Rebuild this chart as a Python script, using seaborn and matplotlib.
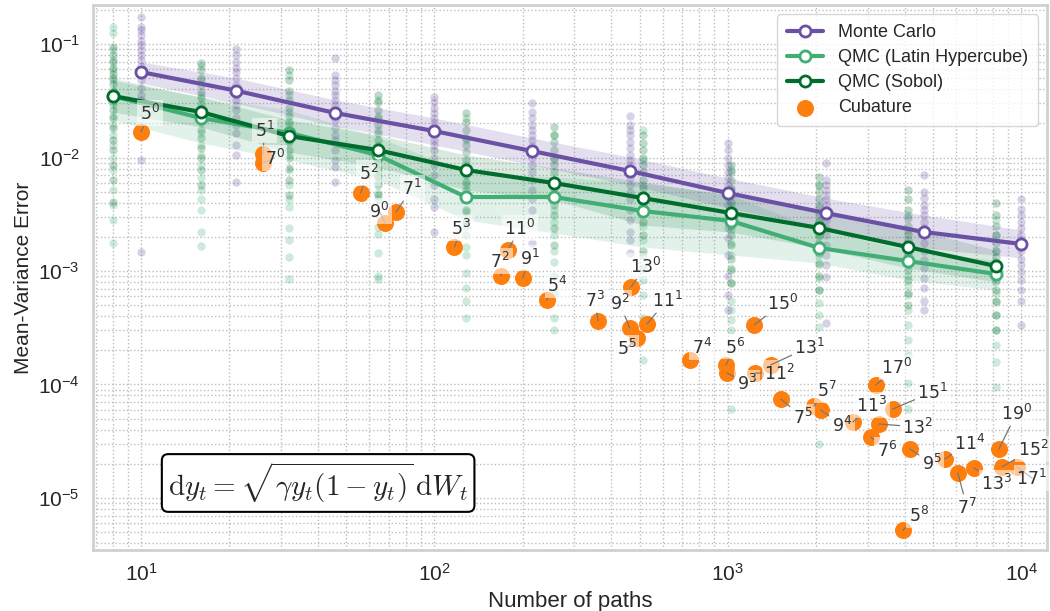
import numpy as np
import pandas as pd
import matplotlib
matplotlib.use("Agg")
import matplotlib.pyplot as plt
import seaborn as sns

# ---------------- data ----------------
mc_n = [10, 21, 46, 100, 215, 464, 1000, 2154, 4642, 10000]
qmc_n = [8, 16, 32, 64, 128, 256, 512, 1024, 2048, 4096, 8192]

# mean errors (log10)
mc_mean_log = [-1.247, -1.41, -1.608, -1.767, -1.943, -2.119, -2.313, -2.489, -2.656, -2.762]
sobol_mean_log = [-1.458, -1.599, -1.811, -1.934, -2.110, -2.225, -2.357, -2.489, -2.621, -2.789, -2.956]
lhs_mean_log = [-1.458, -1.652, -1.784, -1.978, -2.348, -2.348, -2.471, -2.559, -2.797, -2.912, -3.026]

# confidence bands (log10)
mc_hi_log = [-1.158, -1.299, -1.493, -1.652, -1.828, -1.996, -2.181, -2.357, -2.507, -2.639]
mc_lo_log = [-1.344, -1.520, -1.722, -1.890, -2.066, -2.242, -2.445, -2.621, -2.797, -2.885]
sobol_hi_log = [-1.317, -1.467, -1.670, -1.802, -1.978, -2.093, -2.216, -2.331, -2.463, -2.621, -2.815]
sobol_lo_log = [-1.599, -1.731, -1.952, -2.084, -2.286, -2.374, -2.595, -2.657, -2.797, -2.974, -3.097]
lhs_hi_log = [-1.299, -1.467, -1.581, -1.819, -2.137, -2.172, -2.225, -2.331, -2.639, -2.815, -2.903]
lhs_lo_log = [-1.670, -1.872, -2.022, -2.198, -2.551, -2.665, -2.789, -2.859, -2.930, -3.079, -3.167]

# individual runs (log10 error)
mc_runs_log = [
    [-0.76, -0.85, -0.88, -0.92, -0.97, -1.01, -1.05, -1.10, -1.14, -1.19, -1.23, -1.27, -1.32, -1.39, -1.45, -1.49, -2.02, -2.83],
    [-1.04, -1.10, -1.16, -1.21, -1.25, -1.30, -1.36, -1.41, -1.45, -1.49, -1.54, -1.58, -1.65, -1.71, -1.78, -1.89, -1.98, -2.22],
    [-1.12, -1.27, -1.32, -1.36, -1.41, -1.45, -1.49, -1.54, -1.58, -1.63, -1.67, -1.74, -1.80, -1.85, -1.93, -2.02, -2.08, -2.22],
    [-1.47, -1.51, -1.56, -1.61, -1.65, -1.70, -1.74, -1.78, -1.85, -1.89, -1.93, -2.00, -2.07, -2.15, -2.24, -2.37, -2.44, -2.66],
    [-1.52, -1.60, -1.65, -1.71, -1.76, -1.80, -1.85, -1.90, -1.95, -2.00, -2.07, -2.13, -2.20, -2.29, -2.37, -2.46, -2.75],
    [-1.63, -1.71, -1.76, -1.80, -1.86, -1.92, -1.98, -2.02, -2.07, -2.13, -2.18, -2.24, -2.30, -2.37, -2.46, -2.55, -2.66, -2.73, -2.84],
    [-1.87, -1.93, -2.00, -2.07, -2.13, -2.18, -2.24, -2.30, -2.36, -2.42, -2.48, -2.55, -2.62, -2.71, -2.86, -3.04, -3.21, -3.34],
    [-2.05, -2.20, -2.24, -2.29, -2.33, -2.37, -2.42, -2.46, -2.51, -2.55, -2.62, -2.68, -2.77, -2.86, -2.95, -3.05, -3.46],
    [-2.15, -2.30, -2.36, -2.42, -2.46, -2.51, -2.57, -2.62, -2.68, -2.75, -2.82, -2.90, -2.97, -3.06, -3.15, -3.26, -3.34],
    [-2.37, -2.45, -2.51, -2.57, -2.62, -2.68, -2.73, -2.77, -2.82, -2.89, -2.95, -3.01, -3.08, -3.17, -3.26, -3.48],
]
sobol_runs_log = [
    [-1.03, -1.10, -1.16, -1.21, -1.26, -1.30, -1.35, -1.41, -1.46, -1.51, -1.58, -1.65, -1.74, -1.85, -1.93, -2.07, -2.20, -2.39],
    [-1.17, -1.23, -1.30, -1.36, -1.42, -1.48, -1.53, -1.58, -1.63, -1.69, -1.76, -1.83, -1.92, -2.00, -2.11, -2.24],
    [-1.23, -1.32, -1.41, -1.49, -1.56, -1.63, -1.69, -1.76, -1.81, -1.86, -1.93, -2.00, -2.09, -2.20, -2.33],
    [-1.45, -1.51, -1.58, -1.65, -1.71, -1.78, -1.85, -1.91, -1.96, -2.02, -2.09, -2.16, -2.24, -2.33],
    [-1.61, -1.69, -1.76, -1.83, -1.89, -1.95, -2.02, -2.09, -2.15, -2.22, -2.29, -2.36, -2.46, -2.57],
    [-1.73, -1.80, -1.86, -1.93, -2.00, -2.07, -2.13, -2.20, -2.27, -2.34, -2.42, -2.51, -2.62, -2.77],
    [-1.80, -1.87, -1.93, -2.00, -2.07, -2.13, -2.20, -2.27, -2.33, -2.40, -2.48, -2.57, -2.68, -2.82],
    [-2.07, -2.13, -2.20, -2.27, -2.33, -2.39, -2.46, -2.53, -2.60, -2.68, -2.77, -2.89, -2.99, -3.11],
    [-2.17, -2.24, -2.30, -2.37, -2.44, -2.50, -2.56, -2.62, -2.69, -2.76, -2.84, -2.93, -3.04, -3.17],
    [-2.29, -2.37, -2.46, -2.53, -2.60, -2.67, -2.73, -2.79, -2.86, -2.92, -2.99, -3.08, -3.19, -3.30],
    [-2.40, -2.51, -2.60, -2.68, -2.75, -2.82, -2.88, -2.95, -3.01, -3.08, -3.17, -3.26, -3.39, -3.52],
]
lhs_runs_log = [
    [-0.85, -0.90, -1.05, -1.14, -1.23, -1.32, -1.42, -1.54, -1.63, -1.71, -1.80, -1.89, -2.00, -2.11, -2.29, -2.42, -2.55, -2.75],
    [-1.19, -1.32, -1.45, -1.56, -1.67, -1.78, -1.89, -1.98, -2.07, -2.18, -2.29, -2.37, -2.46, -2.66, -2.78],
    [-1.27, -1.45, -1.60, -1.71, -1.85, -1.98, -2.11, -2.24, -2.37, -2.44, -2.62, -2.73, -2.88, -3.07],
    [-1.49, -1.63, -1.76, -1.89, -2.00, -2.11, -2.22, -2.31, -2.37, -2.61, -2.67, -2.84, -3.04, -3.07],
    [-1.65, -1.85, -2.07, -2.24, -2.37, -2.48, -2.60, -2.68, -2.79, -2.86, -3.02, -3.15, -3.26, -3.41],
    [-1.80, -2.02, -2.20, -2.33, -2.46, -2.57, -2.68, -2.82, -2.92, -3.04, -3.19, -3.41, -3.52],
    [-1.76, -2.02, -2.24, -2.37, -2.48, -2.60, -2.73, -2.86, -2.97, -3.08, -3.21, -3.41, -3.78],
    [-2.11, -2.29, -2.42, -2.53, -2.64, -2.75, -2.86, -2.97, -3.11, -3.26, -3.34, -3.43, -3.52, -4.22],
    [-2.24, -2.42, -2.57, -2.68, -2.77, -2.86, -2.95, -3.06, -3.17, -3.28, -3.39, -3.49, -4.52],
    [-2.51, -2.64, -2.77, -2.86, -2.95, -3.04, -3.12, -3.21, -3.34, -3.48, -3.61, -3.74, -3.99, -4.22],
    [-2.55, -2.68, -2.82, -2.92, -3.01, -3.10, -3.19, -3.27, -3.39, -3.52, -3.65, -3.80, -4.02],
]

# cubature
cub_labels = ["5^0", "5^1", "7^0", "5^2", "9^0", "7^1", "5^3", "11^0", "7^2", "9^1",
              "5^4", "13^0", "7^3", "9^2", "11^1", "5^5", "15^0", "7^4", "5^6", "9^3",
              "11^2", "13^1", "7^5", "5^7", "9^4", "11^3", "17^0", "15^1", "13^2", "7^6",
              "9^5", "11^4", "7^7", "13^3", "19^0", "15^2", "17^1", "5^8"]
cub_n = [10, 26, 26, 56, 68, 74, 117, 178, 169, 200,
         241, 468, 361, 463, 530, 490, 1227, 743, 985, 993,
         1236, 1400, 1514, 1963, 2073, 2667, 3194, 3646, 3267, 3069,
         4168, 5485, 6077, 6894, 8380, 8590, 9660, 3945]
cub_err = [1.68e-2, 1.07e-2, 8.95e-3, 4.87e-3, 2.65e-3, 3.31e-3, 1.63e-3, 1.53e-3, 9.04e-4, 8.67e-4,
           5.55e-4, 7.22e-4, 3.63e-4, 3.15e-4, 3.41e-4, 2.57e-4, 3.34e-4, 1.64e-4, 1.49e-4, 1.26e-4,
           1.26e-4, 1.49e-4, 7.45e-5, 6.47e-5, 5.96e-5, 4.67e-5, 9.9e-5, 6.08e-5, 4.49e-5, 3.45e-5,
           2.70e-5, 2.21e-5, 1.66e-5, 1.84e-5, 2.70e-5, 1.88e-5, 1.88e-5, 5.2e-6]
# label offsets (pixels, right / down)
label_off = [(9, -19), (2, -24), (12, -5), (8, -20), (-6, -12), (16, -24), (7, -19), (12, -22), (-1, -15), (7, -20),
             (11, -15), (14, -21), (-3, -21), (-10, -25), (20, -24), (-10, 10), (29, -22), (12, -13), (9, -18), (20, 10),
             (25, 0), (39, -18), (22, 18), (13, -16), (21, 15), (19, -17), (21, -18), (40, -17), (39, 3), (16, 13),
             (22, 14), (25, -16), (9, 34), (23, 15), (18, -36), (31, -18), (15, 11), (16, -15)]

# ---------------- style ----------------
sns.set_theme(style="whitegrid")
plt.rcParams["font.family"] = ["Liberation Sans", "DejaVu Sans"]
plt.rcParams["mathtext.fontset"] = "custom"
plt.rcParams["mathtext.rm"] = "Liberation Sans"
plt.rcParams["mathtext.it"] = "Liberation Sans:italic"
plt.rcParams["mathtext.bf"] = "Liberation Sans:bold"

C_MC = "#6a51a3"
C_LHS = "#41ae76"
C_SOB = "#006d2c"
C_CUB = "#ff7f0e"

fig = plt.figure(figsize=(10.5, 6.11), dpi=100)
ax = fig.add_axes([0.0886, 0.0998, 0.9084, 0.892])
ax.set_xscale("log")
ax.set_yscale("log")

def runs_df(ns, runs):
    xs, ys = [], []
    for n, r in zip(ns, runs):
        xs += [n] * len(r)
        ys += list(10.0 ** np.array(r))
    return pd.DataFrame({"n": xs, "err": ys})

# scattered runs
for ns, runs, c in [(qmc_n, lhs_runs_log, C_LHS), (qmc_n, sobol_runs_log, C_SOB), (mc_n, mc_runs_log, C_MC)]:
    d = runs_df(ns, runs)
    sns.scatterplot(data=d, x="n", y="err", color=c, alpha=0.26, s=36, linewidth=0,
                    legend=False, ax=ax, zorder=1)

# bands
ax.fill_between(qmc_n, 10.0 ** np.array(lhs_lo_log), 10.0 ** np.array(lhs_hi_log), color=C_LHS, alpha=0.15, lw=0, zorder=2)
ax.fill_between(qmc_n, 10.0 ** np.array(sobol_lo_log), 10.0 ** np.array(sobol_hi_log), color=C_SOB, alpha=0.15, lw=0, zorder=2)
ax.fill_between(mc_n, 10.0 ** np.array(mc_lo_log), 10.0 ** np.array(mc_hi_log), color=C_MC, alpha=0.18, lw=0, zorder=2)

# mean lines
line_kw = dict(marker="o", markersize=8, markerfacecolor="white", markeredgewidth=2, linewidth=3, ax=ax)
sns.lineplot(x=mc_n, y=10.0 ** np.array(mc_mean_log), color=C_MC, markeredgecolor=C_MC,
             label="Monte Carlo", zorder=4, **line_kw)
sns.lineplot(x=qmc_n, y=10.0 ** np.array(lhs_mean_log), color=C_LHS, markeredgecolor=C_LHS,
             label="QMC (Latin Hypercube)", zorder=4, **line_kw)
sns.lineplot(x=qmc_n, y=10.0 ** np.array(sobol_mean_log), color=C_SOB, markeredgecolor=C_SOB,
             label="QMC (Sobol)", zorder=5, **line_kw)

# cubature
sns.scatterplot(x=cub_n, y=cub_err, color=C_CUB, s=150, linewidth=0, label="Cubature", ax=ax, zorder=6)
for lab, n, e, (dx, dy) in zip(cub_labels, cub_n, cub_err, label_off):
    base, exp_ = lab.split("^")
    ax.annotate(rf"${base}^{{{exp_}}}$", xy=(n, e), xytext=(dx * 0.72, -dy * 0.72),
                textcoords="offset points", ha="center", va="center", fontsize=12.5,
                color="#333333", math_fontfamily="dejavusans", zorder=7,
                bbox=dict(boxstyle="square,pad=0.15", fc="white", ec="none", alpha=0.55),
                arrowprops=dict(arrowstyle="-", color="#777777", lw=0.9, shrinkA=0, shrinkB=0))

# formula box
ax.text(0.236, 0.123, r"$\mathrm{d}y_t = \sqrt{\gamma y_t(1 - y_t)}\,\mathrm{d}W_t$",
        transform=ax.transAxes, ha="center", va="center", fontsize=21, math_fontfamily="cm",
        bbox=dict(boxstyle="round,pad=0.22", fc="white", ec="black", lw=1.5), zorder=8)

ax.set_xlim(6.865, 12216)
ax.set_ylim(3.48e-6, 0.2206)
ax.grid(which="both", linestyle=":", color="#bdbdbd", linewidth=1.0)
ax.tick_params(axis="both", which="major", labelsize=15)
ax.set_xlabel("Number of paths", fontsize=16)
ax.set_ylabel("Mean-Variance Error", fontsize=15)
for s in ax.spines.values():
    s.set_color("#d0d0d0")
    s.set_linewidth(2)

leg = ax.legend(loc="upper right", fontsize=13, frameon=True, handlelength=2.0,
                borderpad=0.55, labelspacing=0.45, fancybox=True)
leg.get_frame().set_edgecolor("#cccccc")
leg.set_zorder(10)

fig.savefig("out.png", dpi=100)
